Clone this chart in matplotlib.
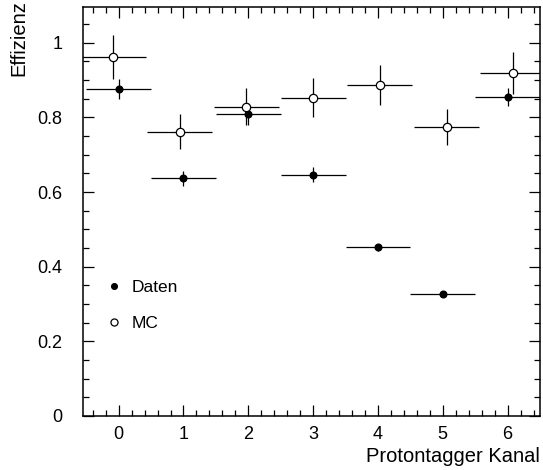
import numpy as np
import matplotlib.pyplot as plt
from matplotlib.ticker import MultipleLocator

plt.rcParams["font.family"] = ["Liberation Sans", "DejaVu Sans"]

channels = [0, 1, 2, 3, 4, 5, 6]
mc_offset = [-0.08, -0.06, -0.03, 0.0, 0.03, 0.06, 0.08]

daten_eff = [0.876, 0.637, 0.810, 0.647, 0.452, 0.326, 0.855]
daten_err = [0.027, 0.020, 0.030, 0.021, 0.010, 0.008, 0.025]

mc_eff = [0.962, 0.762, 0.829, 0.853, 0.887, 0.775, 0.919]
mc_err = [0.059, 0.047, 0.050, 0.053, 0.054, 0.049, 0.056]

bin_half_width = 0.5


def main():
    fig = plt.figure(figsize=(5.43, 4.70), dpi=100)
    ax = fig.add_axes([83 / 543, 54 / 470, 457 / 543, 409 / 470])

    x_daten = np.array(channels, dtype=float)
    x_mc = x_daten + np.array(mc_offset)

    ax.errorbar(x_daten, daten_eff, xerr=bin_half_width, yerr=daten_err,
                fmt="o", color="black", ms=4.8, elinewidth=0.9,
                capsize=0, label="Daten", zorder=3)
    ax.errorbar(x_mc, mc_eff, xerr=bin_half_width, yerr=mc_err,
                fmt="o", color="black", mfc="white", mec="black", mew=0.9,
                ms=6, elinewidth=0.9, capsize=0, label="MC", zorder=4)

    ax.set_xlim(-0.55, 6.5)
    ax.set_ylim(0, 1.096)

    ax.xaxis.set_major_locator(MultipleLocator(1))
    ax.xaxis.set_minor_locator(MultipleLocator(0.2))
    ax.yaxis.set_minor_locator(MultipleLocator(0.05))
    ax.set_yticks([0, 0.2, 0.4, 0.6, 0.8, 1.0])
    ax.set_yticklabels(["0", "0.2", "0.4", "0.6", "0.8", "1"])

    ax.tick_params(which="both", direction="in", top=True, right=True,
                   labelsize=13, width=0.9)
    ax.tick_params(which="major", length=8)
    ax.tick_params(which="minor", length=4)
    ax.tick_params(axis="y", pad=15)
    ax.tick_params(axis="x", pad=7)
    for spine in ax.spines.values():
        spine.set_linewidth(1.1)

    ax.set_xlabel("Protontagger Kanal", fontsize=14.5, loc="right", labelpad=3)
    ax.set_ylabel("Effizienz", fontsize=14.5, loc="top")
    ax.yaxis.set_label_coords(-0.12, 1.018)

    handles, labels = ax.get_legend_handles_labels()
    handles = [h[0] for h in handles]
    ax.legend(handles, labels, loc="lower left", bbox_to_anchor=(0.018, 0.17),
              frameon=False, fontsize=12.5, handlelength=0.8,
              handletextpad=0.6, labelspacing=1.2, markerscale=0.85)

    fig.savefig("out.png", dpi=100)
    plt.close(fig)


if __name__ == "__main__":
    main()
